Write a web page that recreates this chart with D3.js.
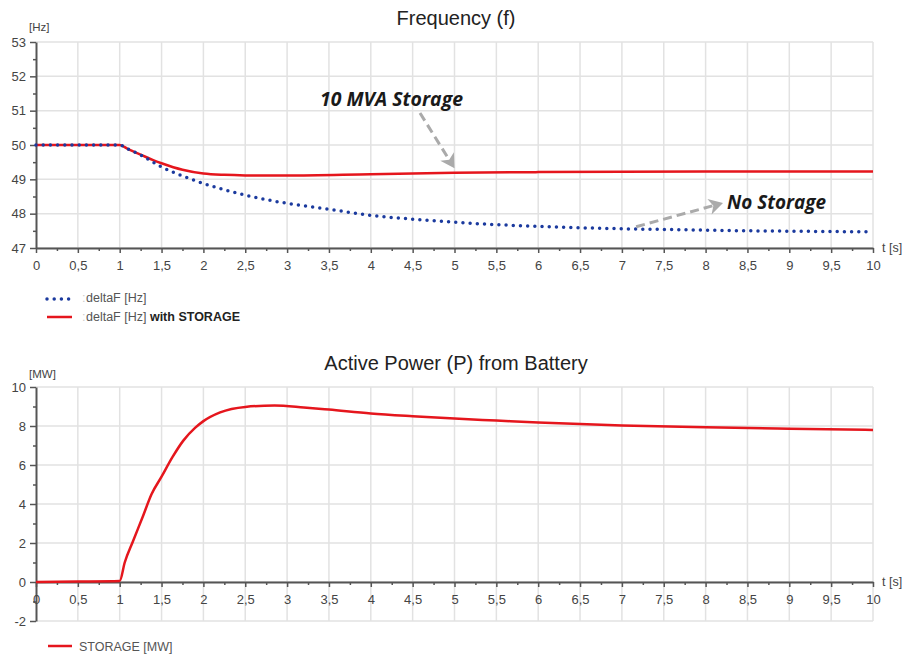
<!DOCTYPE html>
<html>
<head>
<meta charset="utf-8">
<script src="https://cdn.jsdelivr.net/npm/d3@7"></script>
<style>
  body { margin: 0; background: #fff; }
  text { font-family: "Liberation Sans", Arial, sans-serif; }
</style>
</head>
<body>
<svg id="canvas"></svg>
<script>
// frequency, no storage (dotted blue)
const tNoStorage = [0, 0.5, 1, 1.1, 1.25, 1.5, 1.75, 2, 2.5, 3, 3.5, 4, 4.5, 5, 5.5, 6, 6.5, 7, 7.5, 8, 8.5, 9, 9.5, 10];
const fNoStorage = [50, 50, 50, 49.88, 49.71, 49.36, 49.1, 48.88, 48.54, 48.3, 48.13, 47.95, 47.84, 47.75, 47.68, 47.63, 47.59, 47.56, 47.54, 47.52, 47.5, 47.49, 47.48, 47.47];

// frequency, with storage (red)
const tStorage = [0, 0.5, 1, 1.1, 1.25, 1.4, 1.5, 1.75, 2, 2.25, 2.5, 3, 4, 5, 6, 7, 8, 9, 10];
const fStorage = [50, 50, 50, 49.88, 49.72, 49.56, 49.47, 49.28, 49.17, 49.13, 49.115, 49.11, 49.15, 49.19, 49.21, 49.22, 49.225, 49.23, 49.23];

// battery active power
const tPower = [0, 0.5, 1, 1.06, 1.16, 1.28, 1.38, 1.5, 1.63, 1.76, 1.9, 2, 2.2, 2.5, 2.85, 3.2, 3.5, 4, 4.5, 5, 5.5, 6, 7, 8, 9, 10];
const pPower = [0, 0.02, 0.05, 1.0, 2.1, 3.4, 4.5, 5.4, 6.4, 7.25, 7.9, 8.25, 8.7, 8.98, 9.05, 8.95, 8.84, 8.64, 8.5, 8.38, 8.28, 8.18, 8.03, 7.93, 7.86, 7.8];

const xTicks = d3.range(0, 10.01, 0.5);
const xMinor = d3.range(0.25, 10, 0.5);
const fTicks = [47, 48, 49, 50, 51, 52, 53];
const fMinor = [47.5, 48.5, 49.5, 50.5, 51.5, 52.5];
const pTicks = [-2, 0, 2, 4, 6, 8, 10];
const pMinor = [-1, 1, 3, 5, 7, 9];

const W = 904, H = 657;
const svg = d3.select("#canvas").attr("width", W).attr("height", H);

const x = d3.scaleLinear().domain([0, 10]).range([36, 873]);
const yF = d3.scaleLinear().domain([47, 53]).range([248, 42]);
const yP = d3.scaleLinear().domain([-2, 10]).range([621, 387]);

const fmt = d => String(+d.toFixed(2)).replace(".", ",");
const gridCol = "#e2e2e2", axisCol = "#555", labCol = "#444";
const red = "#e5161d", blue = "#1b3a9e";

function panel(y, yTicks, yMinor, xAxisVal, title, titleY, unit, unitY) {
  const g = svg.append("g");
  const [y0, y1] = y.domain();
  // grid
  g.selectAll(".vg").data(xTicks.slice(1)).enter().append("line")
    .attr("x1", d => x(d)).attr("x2", d => x(d))
    .attr("y1", y(y0)).attr("y2", y(y1))
    .attr("stroke", gridCol).attr("stroke-width", 1.5);
  g.selectAll(".hg").data(yTicks).enter().append("line")
    .attr("x1", x(0)).attr("x2", x(10))
    .attr("y1", d => y(d)).attr("y2", d => y(d))
    .attr("stroke", gridCol).attr("stroke-width", 1.5);

  // y axis
  g.append("g").attr("transform", `translate(${x(0)},0)`)
    .call(d3.axisLeft(y).tickValues(yTicks).tickSize(6).tickSizeOuter(0).tickPadding(4).tickFormat(d => d));
  g.append("g").attr("transform", `translate(${x(0)},0)`)
    .call(d3.axisLeft(y).tickValues(yMinor).tickSize(3).tickSizeOuter(0).tickFormat(""))
    .select(".domain").remove();

  // x axis
  g.append("g").attr("transform", `translate(0,${y(xAxisVal)})`)
    .call(d3.axisBottom(x).tickValues(xTicks).tickSize(5).tickSizeOuter(0).tickPadding(8).tickFormat(fmt));
  g.append("g").attr("transform", `translate(0,${y(xAxisVal)})`)
    .call(d3.axisBottom(x).tickValues(xMinor).tickSize(3).tickSizeOuter(0).tickFormat(""))
    .select(".domain").remove();

  g.selectAll(".domain").attr("stroke", axisCol).attr("stroke-width", 2);
  g.selectAll(".tick line").attr("stroke", axisCol).attr("stroke-width", 1.5);
  g.selectAll(".tick text").attr("fill", labCol).style("font-size", "13px")
    .style("font-family", '"Liberation Sans", Arial, sans-serif');

  g.append("text").attr("x", 456).attr("y", titleY).attr("text-anchor", "middle")
    .attr("fill", "#222").style("font-size", "20px").text(title);
  g.append("text").attr("x", 29).attr("y", unitY)
    .attr("fill", labCol).style("font-size", "11.5px").text(unit);
  g.append("text").attr("x", 882).attr("y", y(xAxisVal) + 4)
    .attr("fill", labCol).style("font-size", "12.5px").text("t [s]");
  return g;
}

const gF = panel(yF, fTicks, fMinor, 47, "Frequency (f)", 25, "[Hz]", 31);
const gP = panel(yP, pTicks, pMinor, 0, "Active Power (P) from Battery", 370, "[MW]", 378);

// lines
const lineF = d3.line().x(d => x(d[0])).y(d => yF(d[1])).curve(d3.curveMonotoneX);
const lineP = d3.line().x(d => x(d[0])).y(d => yP(d[1])).curve(d3.curveMonotoneX);

gF.append("path").datum(d3.zip(tStorage, fStorage))
  .attr("fill", "none").attr("stroke", red).attr("stroke-width", 2.5).attr("d", lineF);
gF.append("path").datum(d3.zip(tNoStorage, fNoStorage))
  .attr("fill", "none").attr("stroke", blue).attr("stroke-width", 3.5)
  .attr("stroke-linecap", "round").attr("stroke-dasharray", "0 7.2").attr("d", lineF);

gP.append("path").datum(d3.zip(tPower, pPower))
  .attr("fill", "none").attr("stroke", red).attr("stroke-width", 2.5).attr("d", lineP);

// annotations
function arrow(x1, y1, x2, y2) {
  const ang = Math.atan2(y2 - y1, x2 - x1) * 180 / Math.PI;
  const len = Math.hypot(x2 - x1, y2 - y1);
  const a = svg.append("g").attr("transform", `translate(${x1},${y1}) rotate(${ang})`);
  a.append("line").attr("x1", 0).attr("y1", 0).attr("x2", len - 8).attr("y2", 0)
    .attr("stroke", "#aaa").attr("stroke-width", 3).attr("stroke-dasharray", "9 5");
  a.append("path").attr("d", `M${len},0 L${len - 14},-8 L${len - 10},0 L${len - 14},8 Z`)
    .attr("fill", "#aaa");
}
const annFont = '"Open Sans", Lato, sans-serif';
svg.append("text").attr("x", 320).attr("y", 106)
  .style("font-family", annFont).style("font-size", "19px")
  .style("font-weight", "bold").style("font-style", "italic").attr("fill", "#1a1a1a")
  .attr("textLength", 143).attr("lengthAdjust", "spacingAndGlyphs")
  .text("10 MVA Storage");
arrow(420, 113, x(5), yF(49.32));
svg.append("text").attr("x", 727).attr("y", 209)
  .style("font-family", annFont).style("font-size", "19px")
  .style("font-weight", "bold").style("font-style", "italic").attr("fill", "#1a1a1a")
  .attr("textLength", 99).attr("lengthAdjust", "spacingAndGlyphs")
  .text("No Storage");
arrow(x(7.17), yF(47.62), 723, 203);

// legends
const leg = svg.append("g");
leg.append("line").attr("x1", 47).attr("x2", 72).attr("y1", 299).attr("y2", 299)
  .attr("stroke", blue).attr("stroke-width", 3.5).attr("stroke-linecap", "round")
  .attr("stroke-dasharray", "0 7.2");
leg.append("line").attr("x1", 47).attr("x2", 72).attr("y1", 317).attr("y2", 317)
  .attr("stroke", red).attr("stroke-width", 2.5);
leg.append("text").attr("x", 82).attr("y", 302).attr("fill", "#ccc").style("font-size", "12.5px").text(":");
leg.append("text").attr("x", 82).attr("y", 321).attr("fill", "#ccc").style("font-size", "12.5px").text(":");
leg.append("text").attr("x", 86).attr("y", 302).attr("fill", "#555").style("font-size", "12.5px").text("deltaF [Hz]");
const t2 = leg.append("text").attr("x", 86).attr("y", 321).attr("fill", "#555").style("font-size", "12.5px");
t2.append("tspan").text("deltaF [Hz] ");
t2.append("tspan").attr("font-weight", "bold").attr("fill", "#222").text("with STORAGE");

leg.append("line").attr("x1", 48).attr("x2", 72).attr("y1", 646).attr("y2", 646)
  .attr("stroke", red).attr("stroke-width", 2.5);
leg.append("text").attr("x", 79).attr("y", 651).attr("fill", "#555").style("font-size", "12.5px").text("STORAGE [MW]");
</script>
</body>
</html>
